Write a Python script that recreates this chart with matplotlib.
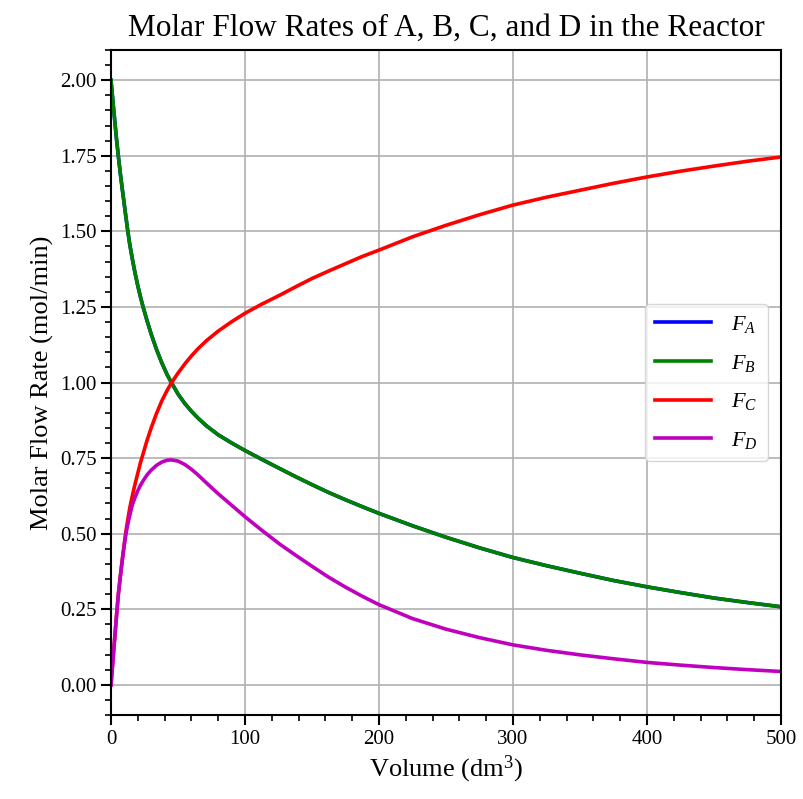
import matplotlib
matplotlib.use("Agg")
import matplotlib.pyplot as plt
from matplotlib.ticker import MultipleLocator, FormatStrFormatter

# Data
volume = [0, 1, 2, 3, 4, 5.5, 7, 8.5, 10, 11.2, 12.4, 14, 16, 18, 20, 22, 24, 27, 30,
          34, 38, 42, 45.3, 50, 55, 60, 65, 71.4, 80, 90, 100, 112, 126, 138, 150,
          162, 175, 187, 200, 225, 250, 275, 300, 325, 350, 375, 400, 425, 450, 475, 500]
F_A = [2.0, 1.951, 1.903, 1.857, 1.81, 1.748, 1.69, 1.637, 1.586, 1.545, 1.505, 1.457,
       1.407, 1.361, 1.32, 1.283, 1.249, 1.203, 1.16, 1.109, 1.064, 1.025, 0.998,
       0.962, 0.931, 0.905, 0.882, 0.856, 0.827, 0.80, 0.775, 0.747, 0.715, 0.688,
       0.662, 0.637, 0.612, 0.590, 0.567, 0.526, 0.488, 0.453, 0.421, 0.394, 0.369,
       0.345, 0.324, 0.305, 0.287, 0.272, 0.258]
F_B = list(F_A)
F_C = [0.0, 0.056, 0.112, 0.167, 0.222, 0.30, 0.36, 0.417, 0.47, 0.51, 0.543, 0.585,
       0.627, 0.665, 0.70, 0.735, 0.765, 0.81, 0.85, 0.898, 0.94, 0.975, 1.0, 1.031,
       1.061, 1.088, 1.112, 1.139, 1.17, 1.201, 1.229, 1.258, 1.289, 1.317, 1.344,
       1.368, 1.393, 1.416, 1.438, 1.482, 1.520, 1.555, 1.587, 1.613, 1.636, 1.659,
       1.68, 1.699, 1.716, 1.732, 1.746]
F_D = [0.0, 0.056, 0.112, 0.167, 0.222, 0.30, 0.36, 0.415, 0.465, 0.50, 0.528, 0.56,
       0.597, 0.62, 0.642, 0.66, 0.675, 0.695, 0.71, 0.726, 0.737, 0.743, 0.744,
       0.740, 0.729, 0.713, 0.694, 0.667, 0.632, 0.594, 0.556, 0.513, 0.465, 0.428,
       0.392, 0.357, 0.323, 0.294, 0.265, 0.219, 0.184, 0.156, 0.132, 0.114, 0.099,
       0.086, 0.074, 0.065, 0.057, 0.05, 0.044]

series = [("$F_A$", F_A, "b"), ("$F_B$", F_B, "g"), ("$F_C$", F_C, "r"), ("$F_D$", F_D, "m")]

plt.rcParams["font.family"] = ["Liberation Serif", "DejaVu Serif"]
plt.rcParams["mathtext.fontset"] = "custom"
plt.rcParams["mathtext.it"] = "Liberation Serif:italic"
plt.rcParams["mathtext.rm"] = "Liberation Serif"

fig = plt.figure(figsize=(8.04, 7.99), dpi=100)
ax = fig.add_axes([111 / 804, 1 - 715 / 799, (781 - 111) / 804, (715 - 50) / 799])

for label, vals, col in series:
    ax.plot(volume, vals, color=col, lw=2.6, label=label, solid_joinstyle="round")

ax.set_xlim(0, 500)
ax.set_ylim(-0.1, 2.1)
ax.xaxis.set_major_locator(MultipleLocator(100))
ax.xaxis.set_minor_locator(MultipleLocator(20))
ax.yaxis.set_major_locator(MultipleLocator(0.25))
ax.yaxis.set_minor_locator(MultipleLocator(0.05))
ax.yaxis.set_major_formatter(FormatStrFormatter("%.2f"))
ax.grid(True, which="major", color="#b0b0b0", lw=1.2)
ax.tick_params(which="major", length=7, width=1.5, labelsize=15, direction="out")
ax.tick_params(which="minor", length=4, width=1.2, direction="out")
for s in ax.spines.values():
    s.set_linewidth(1.5)

ax.set_title("Molar Flow Rates of A, B, C, and D in the Reactor", fontsize=22.5, pad=10)
ax.set_xlabel("Volume (dm$^3$)", fontsize=19)
ax.set_ylabel("Molar Flow Rate (mol/min)", fontsize=19)
leg = ax.legend(loc="center right", fontsize=16, borderpad=0.45, labelspacing=0.8,
                handlelength=2.5, handletextpad=0.9, borderaxespad=0.6)

fig.savefig("out.png", dpi=100)
